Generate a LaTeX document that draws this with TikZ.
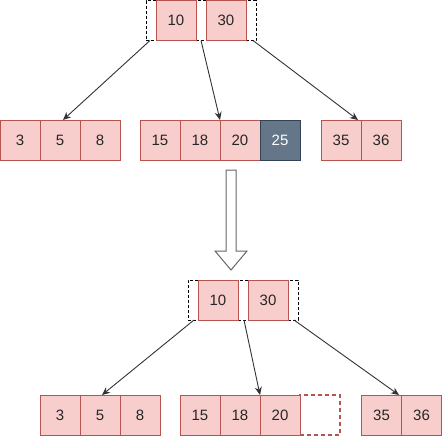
\documentclass[tikz,border=0pt]{standalone}
\usepackage{fontspec}
\setmainfont{Liberation Sans}
\usetikzlibrary{arrows.meta,calc}
\definecolor{pinkfill}{HTML}{F8CECC}
\definecolor{pinkline}{HTML}{B85450}
\definecolor{darkfill}{HTML}{647687}
\definecolor{darkline}{HTML}{314354}
\definecolor{edgecol}{HTML}{333333}
\definecolor{hollowcol}{HTML}{666666}
\begin{document}
\begin{tikzpicture}[x=1pt,y=-1pt,
  cell/.style={draw=pinkline,fill=pinkfill,line width=0.9pt,minimum width=40pt,minimum height=40pt,inner sep=0pt,outer sep=0pt,text=black!85,font=\fontsize{15}{17}\selectfont},
  darkcell/.style={cell,draw=darkline,fill=darkfill,text=white},
  ptr/.style={draw=black,fill=white,dashed,dash pattern=on 3pt off 2pt,line width=0.7pt,minimum width=10pt,minimum height=40pt,inner sep=0pt,outer sep=0pt},
  emptycell/.style={draw=pinkline,fill=white,dash pattern=on 4pt off 3pt,line width=1.6pt,minimum width=40pt,minimum height=40pt,inner sep=0pt,outer sep=0pt},
  link/.style={draw=edgecol,line width=0.9pt,-{Stealth[length=8pt,width=7pt]}}]
\useasboundingbox (0,0) rectangle (442,437);
% ---------- upper tree ----------
\node[ptr] (ua) at (151,20.5) {};
\node[ptr] (ub) at (201,20.5) {};
\node[ptr] (uc) at (251,20.5) {};
\node[cell] (u10) at (176,20) {10};
\node[cell] (u30) at (226,20) {30};
\node[cell] (a3) at (20,140) {3};
\node[cell] (a5) at (60,140) {5};
\node[cell] (a8) at (100,140) {8};
\node[cell] (a15) at (160,140) {15};
\node[cell] (a18) at (200,140) {18};
\node[cell] (a20) at (240,140) {20};
\node[darkcell] (a25) at (280,140) {25};
\node[cell] (a35) at (341,140) {35};
\node[cell] (a36) at (381,140) {36};
\draw[link] ([xshift=-1pt]ua.south) -- ([xshift=3pt]a5.north);
\draw[link] (ub.south) -- (a18.north east);
\draw[link] ([xshift=2pt]uc.south) -- ([xshift=-3pt]a35.north east);
% ---------- hollow arrow ----------
\draw[draw=hollowcol,fill=white,line width=1pt,line join=miter]
  (226,170) -- (236,170) -- (236,251) -- (247,251) -- (231,270) -- (215,251) -- (226,251) -- cycle;
% ---------- lower tree ----------
\node[ptr] (la) at (193,300) {};
\node[ptr] (lb) at (243,300) {};
\node[ptr] (lc) at (293,300) {};
\node[cell] (l10) at (218,300) {10};
\node[cell] (l30) at (268,300) {30};
\node[cell] (b3) at (60,415) {3};
\node[cell] (b5) at (100,415) {5};
\node[cell] (b8) at (140,415) {8};
\node[cell] (b15) at (200,415) {15};
\node[cell] (b18) at (240,415) {18};
\node[emptycell] (be) at (320,415) {};
\node[cell] (b20) at (280,415) {20};
\node[cell] (b35) at (381.5,415) {35};
\node[cell] (b36) at (421.5,415) {36};
\draw[link] ([xshift=1pt]la.south) -- ([xshift=2pt]b5.north);
\draw[link] ([xshift=1pt]lb.south) -- (b18.north east);
\draw[link] ([xshift=1pt]lc.south) -- ([xshift=-2.5pt]b35.north east);
\end{tikzpicture}
\end{document}
